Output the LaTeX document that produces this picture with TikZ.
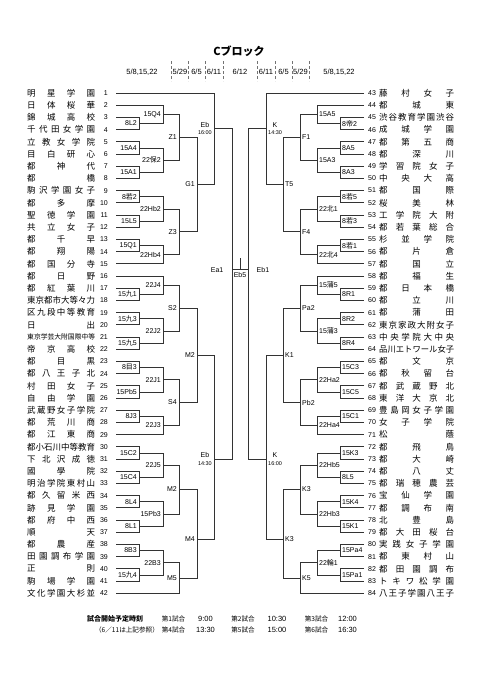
\documentclass[tikz,border=0pt]{standalone}
\usepackage{fontspec}
\usepackage{graphicx}
\setmainfont{Liberation Sans}
\newfontfamily\jpfont{Noto Sans CJK JP}
\usetikzlibrary{positioning,calc}
\newcommand{\jc}[1]{{\jpfont #1}}
\newcommand{\tm}[1]{{\fontsize{5.5}{6}\selectfont #1}}
% spread the letters of a school name over a fixed width
\newcommand{\spreadaux}[1]{\ifx\relax#1\else#1\expandafter\spreadnext\fi}
\newcommand{\spreadnext}[1]{\ifx\relax#1\else\hfill#1\expandafter\spreadnext\fi}
\newcommand{\spreadname}[2]{\setbox0\hbox{#2}\ifdim\wd0>#1\resizebox{#1}{!}{#2}\else\makebox[#1][s]{\expandafter\spreadaux#2\relax}\fi}
% one game: two entries, the column of its vertical, its name, its label
\newcommand{\ml}[6][0.5]{\draw[bline] (#2) -- (#4 |- #2) -- (#4 |- #3) -- (#3);
  \coordinate (#5) at ($(#4 |- #2)!#1!(#4 |- #3)$);
  \node[lab, anchor=east] (#5l) at ([xshift=-1.5pt]#5) {#6};}
\newcommand{\mr}[6][0.5]{\draw[bline] (#2) -- (#4 |- #2) -- (#4 |- #3) -- (#3);
  \coordinate (#5) at ($(#4 |- #2)!#1!(#4 |- #3)$);
  \node[lab, anchor=west] (#5l) at ([xshift=1.5pt]#5) {#6};}

\begin{document}
\begin{tikzpicture}[x=1pt, y=-1pt,
  bline/.style={draw=black!80, line width=0.8pt},
  lab/.style={font=\fontsize{7}{7.5}\selectfont, inner sep=0.5pt, align=center},
  lname/.style={font=\jpfont\fontsize{8.5}{9}\selectfont, inner sep=0pt},
  lnum/.style={font=\fontsize{7}{8}\selectfont, inner sep=0pt},
  dat/.style={font=\fontsize{7.5}{8}\selectfont, inner sep=0pt},
  sep/.style={draw=black!55, densely dashed, line width=0.4pt},
  ft/.style={font=\jpfont\fontsize{6.6}{8}\selectfont, inner sep=0pt},
  ftb/.style={font=\jpfont\bfseries\fontsize{7}{8}\selectfont, inner sep=0pt},
  fnum/.style={font=\fontsize{7.5}{8}\selectfont, inner sep=0pt}]
\useasboundingbox (0,0) rectangle (481,680);
\node[font=\jpfont\bfseries\fontsize{11}{12}\selectfont] (title) at (239,51) {Cブロック};
\node[dat] (d1) at (142,72) {5/8,15,22};
\node[dat] (d2) at (180,72) {5/29};
\node[dat] (d3) at (196.5,72) {6/5};
\node[dat] (d4) at (214,72) {6/11};
\node[dat] (d5) at (240,72) {6/12};
\node[dat] (d6) at (266,72) {6/11};
\node[dat] (d7) at (283.5,72) {6/5};
\node[dat] (d8) at (300.5,72) {5/29};
\node[dat] (d9) at (339,72) {5/8,15,22};
\foreach \x in {171,188,205,223,257,275,292,309} \draw[sep] (\x,61) -- (\x,81);

% schools
\foreach \i/\nm in {1/明星学園,2/日体桜華,3/錦城高校,4/千代田女学園,5/立教女学院,6/目白研心,7/都神代,8/都橋,9/駒沢学園女子,10/都多摩,11/聖徳学園,12/共立女子,13/都千早,14/都翔陽,15/都国分寺,16/都日野,17/都紅葉川,18/東京都市大等々力,19/区九段中等教育,20/日出,21/東京学芸大附国際中等,22/帝京高校,23/都目黒,24/都八王子北,25/村田女子,26/自由学園,27/武蔵野女子学院,28/都荒川商,29/都江東商,30/都小石川中等教育,31/下北沢成徳,32/國學院,33/明治学院東村山,34/都久留米西,35/跡見学園,36/都府中西,37/順天,38/都農産,39/田園調布学園,40/正則,41/駒場学園,42/文化学園大杉並}{
  \node[lname, anchor=west] (n\i) at (27,{93+12.2*(\i-1)}) {\spreadname{68pt}{\nm}};
  \node[lnum, anchor=east] (k\i) at (108,{93+12.2*(\i-1)}) {\i};
  \coordinate (t\i) at (116,{93+12.2*(\i-1)});}
\foreach \i/\nm in {43/藤村女子,44/都城東,45/渋谷教育学園渋谷,46/成城学園,47/都第五商,48/都深川,49/学習院女子,50/中央大高,51/都国際,52/桜美林,53/工学院大附,54/都若葉総合,55/杉並学院,56/都片倉,57/都国立,58/都福生,59/都日本橋,60/都立川,61/都蒲田,62/東京家政大附女子,63/中央学院大中央,64/品川エトワール女子,65/都文京,66/都秋留台,67/都武蔵野北,68/東洋大京北,69/豊島岡女子学園,70/女子学院,71/松蔭,72/都飛鳥,73/都大崎,74/都八丈,75/都瑞穂農芸,76/宝仙学園,77/都調布南,78/北豊島,79/都大田桜台,80/実践女子学園,81/都東村山,82/都田園調布,83/トキワ松学園,84/八王子学園八王子}{
  \node[lname, anchor=west] (n\i) at (379,{93+12.2*(\i-43)}) {\spreadname{75pt}{\nm}};
  \node[lnum, anchor=west] (k\i) at (368,{93+12.2*(\i-43)}) {\i};
  \coordinate (t\i) at (364,{93+12.2*(\i-43)});}

% columns of the verticals
\coordinate (cl1) at (139,0); \coordinate (cl2) at (163,0); \coordinate (cl3) at (179,0);
\coordinate (cl4) at (197,0); \coordinate (cl5) at (214,0); \coordinate (cl6) at (232,0);
\coordinate (cr1) at (340,0); \coordinate (cr2) at (317,0); \coordinate (cr3) at (300,0);
\coordinate (cr4) at (283,0); \coordinate (cr5) at (266,0); \coordinate (cr6) at (248,0);

% left half
\ml{t3}{t4}{cl1}{m8L2}{8L2} \ml{t5}{t6}{cl1}{m15A4}{15A4} \ml{t7}{t8}{cl1}{m15A1}{15A1}
\ml{t9}{t10}{cl1}{m8W2}{8\jc{若}2} \ml{t11}{t12}{cl1}{m15L5}{15L5} \ml{t13}{t14}{cl1}{m15Q1}{15Q1}
\ml{t17}{t18}{cl1}{m15Ku1}{15\jc{九}1} \ml{t19}{t20}{cl1}{m15Ku3}{15\jc{九}3} \ml{t21}{t22}{cl1}{m15Ku5}{15\jc{九}5}
\ml{t23}{t24}{cl1}{m8M3}{8\jc{目}3} \ml{t25}{t26}{cl1}{m15Pb5}{15Pb5} \ml{t27}{t28}{cl1}{m8J3}{8J3}
\ml{t30}{t31}{cl1}{m15C2}{15C2} \ml{t32}{t33}{cl1}{m15C4}{15C4} \ml{t34}{t35}{cl1}{m8L4}{8L4}
\ml{t36}{t37}{cl1}{m8L1}{8L1} \ml{t38}{t39}{cl1}{m8B3}{8B3} \ml{t40}{t41}{cl1}{m15Ku4}{15\jc{九}4}
\ml{t2}{m8L2}{cl2}{m15Q4}{15Q4} \ml{m15A4}{m15A1}{cl2}{m22Ho2}{22\jc{保}2}
\ml{m8W2}{m15L5}{cl2}{m22Hb2}{22Hb2} \ml{m15Q1}{t15}{cl2}{m22Hb4}{22Hb4}
\ml{t16}{m15Ku1}{cl2}{m22J4}{22J4} \ml{m15Ku3}{m15Ku5}{cl2}{m22J2}{22J2}
\ml{m8M3}{m15Pb5}{cl2}{m22J1}{22J1} \ml{m8J3}{t29}{cl2}{m22J3}{22J3}
\ml{m15C2}{m15C4}{cl2}{m22J5}{22J5} \ml{m8L4}{m8L1}{cl2}{m15Pb3}{15Pb3} \ml{m8B3}{m15Ku4}{cl2}{m22B3}{22B3}
\ml{m15Q4}{m22Ho2}{cl3}{mZ1}{Z1} \ml{m22Hb2}{m22Hb4}{cl3}{mZ3}{Z3}
\ml{m22J4}{m22J2}{cl3}{mS2}{S2} \ml{m22J1}{m22J3}{cl3}{mS4}{S4}
\ml{m22J5}{m15Pb3}{cl3}{mM2b}{M2} \ml{m22B3}{t42}{cl3}{mM5}{M5}
\ml{mZ1}{mZ3}{cl4}{mG1}{G1} \ml{mS2}{mS4}{cl4}{mM2a}{M2} \ml[0.56]{mM2b}{mM5}{cl4}{mM4}{M4}
\ml[0.39]{t1}{mG1}{cl5}{mEbA}{Eb\\ \tm{16:00}} \ml[0.565]{mM2a}{mM4}{cl5}{mEbB}{Eb\\ \tm{14:30}}

% right half
\mr{t45}{t46}{cr1}{r8T2}{8\jc{帝}2} \mr{t47}{t48}{cr1}{r8A5}{8A5} \mr{t49}{t50}{cr1}{r8A3}{8A3}
\mr{t51}{t52}{cr1}{r8W5}{8\jc{若}5} \mr{t53}{t54}{cr1}{r8W3}{8\jc{若}3} \mr{t55}{t56}{cr1}{r8W1}{8\jc{若}1}
\mr{t59}{t60}{cr1}{r8R1}{8R1} \mr{t61}{t62}{cr1}{r8R2}{8R2} \mr{t63}{t64}{cr1}{r8R4}{8R4}
\mr{t65}{t66}{cr1}{r15C3}{15C3} \mr{t67}{t68}{cr1}{r15C5}{15C5} \mr{t69}{t70}{cr1}{r15C1}{15C1}
\mr{t72}{t73}{cr1}{r15K3}{15K3} \mr{t74}{t75}{cr1}{r8L5}{8L5} \mr{t76}{t77}{cr1}{r15K4}{15K4}
\mr{t78}{t79}{cr1}{r15K1}{15K1} \mr{t80}{t81}{cr1}{r15Pa4}{15Pa4} \mr{t82}{t83}{cr1}{r15Pa1}{15Pa1}
\mr{t44}{r8T2}{cr2}{r15A5}{15A5} \mr{r8A5}{r8A3}{cr2}{r15A3}{15A3}
\mr{r8W5}{r8W3}{cr2}{r22N1}{22\jc{北}1} \mr{r8W1}{t57}{cr2}{r22N4}{22\jc{北}4}
\mr{t58}{r8R1}{cr2}{r15Ka5}{15\jc{蒲}5} \mr{r8R2}{r8R4}{cr2}{r15Ka3}{15\jc{蒲}3}
\mr{r15C3}{r15C5}{cr2}{r22Ha2}{22Ha2} \mr{r15C1}{t71}{cr2}{r22Ha4}{22Ha4}
\mr{r15K3}{r8L5}{cr2}{r22Hb5}{22Hb5} \mr{r15K4}{r15K1}{cr2}{r22Hb3}{22Hb3} \mr{r15Pa4}{r15Pa1}{cr2}{r22Ri1}{22\jc{輪}1}
\mr{r15A5}{r15A3}{cr3}{rF1}{F1} \mr{r22N1}{r22N4}{cr3}{rF4}{F4}
\mr{r15Ka5}{r15Ka3}{cr3}{rPa2}{Pa2} \mr{r22Ha2}{r22Ha4}{cr3}{rPb2}{Pb2}
\mr{r22Hb5}{r22Hb3}{cr3}{rK3a}{K3} \mr{r22Ri1}{t84}{cr3}{rK5}{K5}
\mr{rF1}{rF4}{cr4}{rT5}{T5} \mr{rPa2}{rPb2}{cr4}{rK1}{K1} \mr[0.56]{rK3a}{rK5}{cr4}{rK3b}{K3}
\mr[0.39]{t43}{rT5}{cr5}{rKA}{K\\ \tm{14:30}} \mr[0.565]{rK1}{rK3b}{cr5}{rKB}{K\\ \tm{16:00}}

% semi-finals and final
\draw[bline] (mEbA) -- (cl6 |- mEbA) -- (cl6 |- mEbB) -- (mEbB);
\coordinate (ea1) at ($(cl6 |- mEbA)!0.427!(cl6 |- mEbB)$);
\draw[bline] (rKA) -- (cr6 |- rKA) -- (cr6 |- rKB) -- (rKB);
\coordinate (eb1) at ($(cr6 |- rKA)!0.427!(cr6 |- rKB)$);
\coordinate (fin) at ($(ea1)!0.5!(eb1)$);
\draw[bline] (ea1) -- (eb1); \draw[bline] (fin) -- ++(0,-12);
\node[lab, anchor=east] (ea1l) at ([xshift=-8pt]ea1) {Ea1};
\node[lab, anchor=west] (eb1l) at ([xshift=8pt]eb1) {Eb1};
\node[lab, below=2pt of fin] (eb5) {Eb5};

% start times
\node[ftb] (fhead) at (115,619) {試合開始予定時刻};
\node[ft] (g1) at (173.5,619) {第1試合}; \node[fnum] (h1) at (205.5,619) {9:00};
\node[ft] (g2) at (243,619) {第2試合}; \node[fnum] (h2) at (277,619) {10:30};
\node[ft] (g3) at (316.5,619) {第3試合}; \node[fnum] (h3) at (347.5,619) {12:00};
\node[ft] (fnote) at (127,630) {（6／11は上記参照）};
\node[ft] (g4) at (173.5,630) {第4試合}; \node[fnum] (h4) at (205.5,630) {13:30};
\node[ft] (g5) at (243,630) {第5試合}; \node[fnum] (h5) at (277,630) {15:00};
\node[ft] (g6) at (316.5,630) {第6試合}; \node[fnum] (h6) at (347.5,630) {16:30};
\end{tikzpicture}
\end{document}
